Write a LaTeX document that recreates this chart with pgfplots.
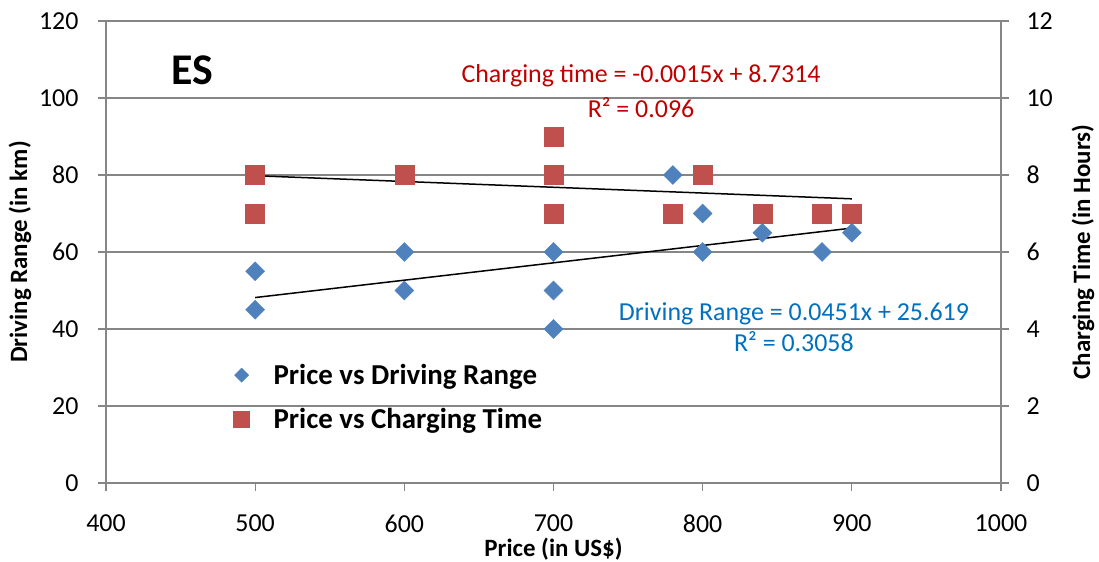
\documentclass[border=0pt]{standalone}
\usepackage{fontspec}
\setmainfont{Carlito}
\usepackage{pgfplots}
\pgfplotsset{compat=1.18}
\definecolor{drblue}{HTML}{4F81BD}
\definecolor{ctred}{HTML}{C0504D}
\definecolor{eqred}{HTML}{C00000}
\definecolor{eqblue}{HTML}{0070C0}
\definecolor{axgray}{HTML}{868686}
\begin{document}
\begin{tikzpicture}
\pgfplotsset{
 common/.style={
  width=895bp, height=462bp, scale only axis,
  xmin=400, xmax=1000,
  /pgf/number format/assume math mode=true,
  /pgf/number format/1000 sep={},
  tick label style={font=\fontsize{26}{30}\selectfont},
  label style={font=\bfseries\fontsize{25}{30}\selectfont},
  axis line style={axgray, line width=1.2bp},
  major tick style={axgray, line width=1.2bp},
  major tick length=8bp,
  tick align=outside,
 }}
\begin{axis}[common, name=ax,
  axis x line*=bottom, axis y line*=left,
  ymin=0, ymax=120, ytick={0,20,...,120},
  xtick={400,500,...,1000},
  yticklabel style={xshift=-16bp},
  xticklabel style={yshift=-20bp},
  ymajorgrids, grid style={axgray, line width=1.2bp},
  xlabel={Price (in US\$)}, ylabel={Driving Range (in km)},
  xlabel style={at={(axis description cs:0.5,-0.1429)}, anchor=center},
  ylabel style={at={(axis description cs:-0.0961,0.5)}, anchor=center},
 ]
\addplot[only marks, mark=square*, mark size=6.7bp, mark options={rotate=45, drblue, fill=drblue}] coordinates {
 (500,55) (500,45) (600,60) (600,50) (700,60) (700,50) (700,40)
 (780,80) (800,70) (800,60) (840,65) (880,60) (900,65)};
\addplot[black, line width=1.5bp] coordinates {(500,48.169) (900,66.209)};
\node[eqred, font=\fontsize{26}{30}\selectfont] at (axis cs:758.7,105.7) {Charging time = -0.0015x + 8.7314};
\node[eqred, font=\fontsize{26}{30}\selectfont] at (axis cs:758.7,97.4) {R² = 0.096};
\node[eqblue, font=\fontsize{26}{30}\selectfont] at (axis cs:861.2,43.9) {Driving Range = 0.0451x + 25.619};
\node[eqblue, font=\fontsize{26}{30}\selectfont] at (axis cs:861.2,36.6) {R² = 0.3058};
\node[font=\bfseries\fontsize{44}{50}\selectfont] at (axis cs:457.7,107.3) {ES};
\end{axis}
\begin{axis}[common,
  axis x line=none, axis y line*=right,
  ymin=0, ymax=12, ytick={0,2,...,12},
  yticklabel style={xshift=14bp},
  ylabel={Charging Time (in Hours)},
  ylabel style={at={(axis description cs:1.0916,0.5)}, anchor=center},
  legend style={at={(axis description cs:0.139,0.266)}, anchor=north west, draw=none, fill=none,
    font=\bfseries\fontsize{29}{34}\selectfont, row sep=18bp},
  legend cell align=left,
 ]
\addplot[only marks, mark=square*, mark size=9.5bp, mark options={ctred, fill=ctred}, forget plot] coordinates {
 (500,8) (500,7) (600,8) (700,9) (700,8) (700,7) (780,7) (800,8) (840,7) (880,7) (900,7)};
\addplot[black, line width=1.5bp, forget plot] coordinates {(500,7.9814) (900,7.3814)};
\addlegendimage{only marks, mark=square*, mark size=5bp, mark options={rotate=45, drblue, fill=drblue}}
\addlegendentry{\hspace*{22bp}Price vs Driving Range}
\addlegendimage{only marks, mark=square*, mark size=8bp, mark options={ctred, fill=ctred}}
\addlegendentry{\hspace*{22bp}Price vs Charging Time}
\end{axis}
\pgfresetboundingbox
\path[use as bounding box] ([xshift=-106bp,yshift=-79bp]ax.south west) rectangle ([xshift=98bp,yshift=21bp]ax.north east);
\end{tikzpicture}
\end{document}
